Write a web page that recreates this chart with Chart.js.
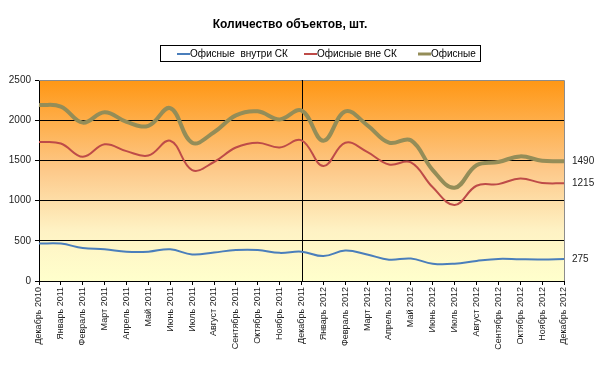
<!DOCTYPE html>
<html>
<head>
<meta charset="utf-8">
<script src="https://cdn.jsdelivr.net/npm/chart.js@4/dist/chart.umd.min.js"></script>
<style>
  html, body { margin: 0; padding: 0; background: #fff; }
  #wrap { width: 600px; height: 368px; }
</style>
</head>
<body>
<div id="wrap"><canvas id="chart" width="600" height="368"></canvas></div>
<script>
// Data
const months = [
  'Декабрь 2010', 'Январь 2011', 'Февраль 2011', 'Март 2011', 'Апрель 2011', 'Май 2011',
  'Июнь 2011', 'Июль 2011', 'Август 2011', 'Сентябрь 2011', 'Октябрь 2011', 'Ноябрь 2011',
  'Декабрь 2011', 'Январь 2012', 'Февраль 2012', 'Март 2012', 'Апрель 2012', 'Май 2012',
  'Июнь 2012', 'Июль 2012', 'Август 2012', 'Сентябрь 2012', 'Октябрь 2012', 'Ноябрь 2012',
  'Декабрь 2012'
];
const insideSK = [465, 465, 410, 395, 365, 365, 395, 330, 355, 385, 385, 350,
  365, 310, 378, 330, 265, 280, 215, 215, 250, 275, 270, 268, 275];
const outsideSK = [1730, 1710, 1545, 1700, 1615, 1560, 1745, 1380, 1480, 1660, 1720, 1660,
  1750, 1430, 1720, 1605, 1450, 1475, 1165, 945, 1185, 1205, 1275, 1220, 1215];
const offices = [2190, 2170, 1970, 2100, 1980, 1930, 2150, 1720, 1850, 2060, 2110, 2010,
  2120, 1745, 2110, 1940, 1720, 1750, 1380, 1160, 1440, 1480, 1550, 1495, 1490];
const yTicks = [0, 500, 1000, 1500, 2000, 2500];
const markerMonth = 'Декабрь 2011';
const chartTitle = 'Количество объектов, шт.';

const blueColor = '#4a7ebb',
  redColor = '#be4b48',
  oliveColor = '#948d58';

const fontFamily = 'Arial, "Liberation Sans", sans-serif';

// legend item x positions (line start) inside the framed box
const legendX = [177, 304, 418];

const bgPlugin = {
  id: 'plotBg',
  beforeDraw(chart) {
    const { ctx, chartArea: a } = chart;
    const g = ctx.createLinearGradient(0, a.top, 0, a.bottom);
    g.addColorStop(0, '#ff9714');
    g.addColorStop(0.45, '#fdc98a');
    g.addColorStop(0.75, '#fef2c4');
    g.addColorStop(1, '#ffffcc');
    ctx.save();
    ctx.fillStyle = g;
    ctx.fillRect(a.left, a.top, a.right - a.left, a.bottom - a.top);
    ctx.restore();
  },
  beforeDatasetsDraw(chart) {
    const { ctx, chartArea: a, scales } = chart;
    ctx.save();
    ctx.strokeStyle = '#8c8c8c';
    ctx.lineWidth = 1;
    ctx.beginPath();
    ctx.moveTo(a.left, a.top + 0.5);
    ctx.lineTo(a.right + 0.5, a.top + 0.5);
    ctx.lineTo(a.right + 0.5, a.bottom);
    ctx.stroke();
    // vertical separator
    const x = Math.round(scales.x.getPixelForValue(months.indexOf(markerMonth))) + 0.5;
    ctx.strokeStyle = '#000';
    ctx.beginPath();
    ctx.moveTo(x, a.top);
    ctx.lineTo(x, a.bottom);
    ctx.stroke();
    ctx.restore();
  },
  afterDraw(chart) {
    const { ctx, chartArea: a, scales } = chart;
    ctx.save();
    // title
    ctx.fillStyle = '#000';
    ctx.font = 'bold 12px ' + fontFamily;
    ctx.textAlign = 'center';
    ctx.textBaseline = 'middle';
    ctx.fillText(chartTitle, 290, 25);
    // end labels
    ctx.font = '10px ' + fontFamily;
    ctx.fillStyle = '#222';
    ctx.textAlign = 'left';
    chart.data.datasets.forEach(function(ds) {
      const v = ds.data[ds.data.length - 1];
      ctx.fillText(String(v), a.right + 8, scales.y.getPixelForValue(v));
    });
    // legend
    ctx.fillStyle = '#fff';
    ctx.fillRect(161, 46, 319, 16);
    ctx.strokeStyle = '#000';
    ctx.lineWidth = 1;
    ctx.strokeRect(160.5, 45.5, 320, 16);
    chart.data.datasets.forEach(function(ds, i) {
      const x0 = legendX[i];
      ctx.strokeStyle = ds.borderColor;
      ctx.lineWidth = i === 2 ? 3 : 2;
      ctx.beginPath();
      ctx.moveTo(x0, 54);
      ctx.lineTo(x0 + 13, 54);
      ctx.stroke();
      ctx.fillStyle = '#000';
      ctx.font = '10px ' + fontFamily;
      ctx.fillText(ds.label, x0 + 13, 54);
    });
    ctx.restore();
  }
};

new Chart(document.getElementById('chart'), {
  type: 'line',
  data: {
    labels: months,
    datasets: [
      { label: 'Офисные  внутри СК', data: insideSK, borderColor: blueColor, backgroundColor: blueColor, borderWidth: 2 },
      { label: 'Офисные вне СК', data: outsideSK, borderColor: redColor, backgroundColor: redColor, borderWidth: 2 },
      { label: 'Офисные', data: offices, borderColor: oliveColor, backgroundColor: oliveColor, borderWidth: 4 }
    ]
  },
  options: {
    responsive: false,
    animation: false,
    devicePixelRatio: 1,
    elements: {
      point: { radius: 0 },
      line: { tension: 0.4, cubicInterpolationMode: 'default' }
    },
    layout: { padding: { left: 4, right: 36, top: 80, bottom: 0 } },
    plugins: {
      tooltip: { enabled: false },
      legend: { display: false },
      title: { display: false }
    },
    scales: {
      x: {
        offset: false,
        grid: { display: true, drawOnChartArea: false, drawTicks: true, tickLength: 4, color: '#000' },
        border: { display: true, color: '#000' },
        ticks: {
          autoSkip: false,
          maxRotation: 90,
          minRotation: 90,
          color: '#222',
          padding: 2,
          font: { family: fontFamily, size: 9 }
        },
        afterFit(scale) { scale.height = 87; }
      },
      y: {
        min: 0,
        max: 2500,
        afterBuildTicks(scale) { scale.ticks = yTicks.map(function(v) { return { value: v }; }); },
        grid: { color: '#000', tickLength: 4, drawTicks: true },
        border: { display: true, color: '#000' },
        ticks: {
          color: '#222',
          padding: 4,
          font: { family: fontFamily, size: 10 },
          callback: function(v) { return String(v); }
        },
        afterFit(scale) { scale.width = 35; }
      }
    }
  },
  plugins: [bgPlugin]
});
</script>
</body>
</html>
